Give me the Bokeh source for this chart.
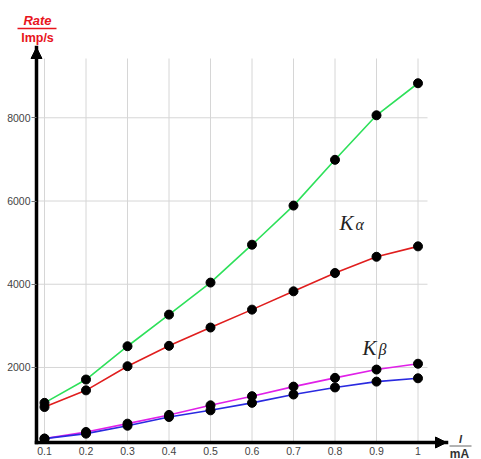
from bokeh.plotting import figure
from bokeh.models import Range1d, FixedTicker, Label, Arrow, NormalHead, ColumnDataSource
from bokeh.embed import file_html
from bokeh.resources import INLINE

# ---- data ----
current = [0.1, 0.2, 0.3, 0.4, 0.5, 0.6, 0.7, 0.8, 0.9, 1.0]
rate_green = [1150, 1710, 2510, 3270, 4040, 4950, 5890, 6990, 8060, 8830]
rate_red = [1050, 1450, 2030, 2520, 2960, 3390, 3830, 4270, 4660, 4910]
rate_magenta = [290, 450, 650, 860, 1090, 1310, 1540, 1750, 1950, 2090]
rate_blue = [290, 410, 600, 810, 970, 1150, 1350, 1520, 1660, 1740]
x_ticks = [0.1, 0.2, 0.3, 0.4, 0.5, 0.6, 0.7, 0.8, 0.9, 1.0]
x_tick_labels = ["0.1", "0.2", "0.3", "0.4", "0.5", "0.6", "0.7", "0.8", "0.9", "1"]
y_ticks = [2000, 4000, 6000, 8000]

W, H = 481, 459


# ---- geometry: canvas px -> data ----
def dx(px):
    return 0.1 + (px - 44) / 415.0


def dy(py):
    return (450.2 - py) * 24.03


AX_X = dx(36)      # where the vertical axis sits
AX_Y = dy(442)     # where the horizontal axis sits
Y_TOP = dy(47)
X_RIGHT = dx(446)
GRID_TOP = dy(58)
GRID_RIGHT = dx(427)

p = figure(width=W, height=H, output_backend="svg", toolbar_location=None,
           x_range=Range1d(dx(0), dx(W)), y_range=Range1d(dy(H), dy(0)),
           min_border=0, min_border_left=0, min_border_right=0,
           min_border_top=0, min_border_bottom=0)
p.outline_line_color = None
p.grid.visible = False
p.background_fill_color = "white"
p.border_fill_color = "white"

# axes drawn at fixed positions
for ax in (p.xaxis[0], p.yaxis[0]):
    ax.axis_line_width = 3.5
    ax.axis_line_color = "black"
    ax.axis_line_cap = "square"
    ax.minor_tick_line_color = None
    ax.major_label_text_font = "Liberation Sans"
    ax.major_label_text_color = "#444444"

p.xaxis.fixed_location = AX_Y
p.xaxis.bounds = (AX_X, X_RIGHT)
p.xaxis.ticker = FixedTicker(ticks=x_ticks)
p.xaxis.major_label_overrides = {t: l for t, l in zip(x_ticks, x_tick_labels)}
p.xaxis.major_tick_line_color = None
p.xaxis.major_tick_out = 0
p.xaxis.major_tick_in = 0
p.xaxis.major_label_standoff = 4
p.xaxis.major_label_text_font_size = "10.5px"

p.yaxis.fixed_location = AX_X
p.yaxis.bounds = (AX_Y, Y_TOP)
p.yaxis.ticker = FixedTicker(ticks=y_ticks)
p.yaxis.major_tick_out = 5
p.yaxis.major_tick_in = 0
p.yaxis.major_tick_line_color = "#777777"
p.yaxis.major_label_standoff = 1
p.yaxis.major_label_text_font_size = "10.5px"

# grid lines
p.segment(x0=x_ticks, x1=x_ticks, y0=[AX_Y] * len(x_ticks), y1=[GRID_TOP] * len(x_ticks),
          line_color="#d6d6d6", line_width=1)
p.segment(x0=[AX_X] * len(y_ticks), x1=[GRID_RIGHT] * len(y_ticks), y0=y_ticks, y1=y_ticks,
          line_color="#d6d6d6", line_width=1)

src = ColumnDataSource(dict(x=current, g=rate_green, r=rate_red, m=rate_magenta, b=rate_blue))
series = [("g", "#2ee05a"), ("r", "#e01e1e"), ("m", "#e020e8"), ("b", "#2a2ae0")]
for col, c in series:
    p.line("x", col, source=src, line_color=c, line_width=1.6)
for col, c in series:
    p.scatter("x", col, source=src, size=9, fill_color="black", line_color="black")

# arrow heads
p.add_layout(Arrow(end=NormalHead(size=11, fill_color="black", line_color="black", line_width=1),
                   x_start=AX_X, y_start=dy(60), x_end=AX_X, y_end=Y_TOP, line_alpha=0))
p.add_layout(Arrow(end=NormalHead(size=11, fill_color="black", line_color="black", line_width=1),
                   x_start=dx(430), y_start=AX_Y, x_end=X_RIGHT, y_end=AX_Y, line_alpha=0))

# K labels
p.add_layout(Label(x=dx(339), y=dy(222), text="K", text_font="Liberation Serif",
                   text_font_style="italic", text_font_size="21px", text_color="#222222",
                   text_baseline="alphabetic"))
p.add_layout(Label(x=dx(355), y=dy(224), text="α", text_font="Liberation Serif",
                   text_font_style="italic", text_font_size="16px", text_color="#222222",
                   text_baseline="alphabetic"))
p.add_layout(Label(x=dx(362), y=dy(347), text="K", text_font="Liberation Serif",
                   text_font_style="italic", text_font_size="21px", text_color="#222222",
                   text_baseline="alphabetic"))
p.add_layout(Label(x=dx(378), y=dy(349), text="β", text_font="Liberation Serif",
                   text_font_style="italic", text_font_size="16px", text_color="#222222",
                   text_baseline="alphabetic"))

# axis titles
p.add_layout(Label(x=dx(37), y=dy(20), text="Rate", text_font="Liberation Sans",
                   text_font_style="bold italic", text_font_size="13px", text_color="#e8141c",
                   text_align="center", text_baseline="alphabetic"))
p.add_layout(Arrow(x_start=dx(17), y_start=dy(28), x_end=dx(56), y_end=dy(28),
                   start=None, end=None, line_color="#e8141c", line_width=1.3))
p.add_layout(Label(x=dx(37), y=dy(37), text="Imp/s", text_font="Liberation Sans",
                   text_font_style="bold", text_font_size="12.5px", text_color="#e8141c",
                   text_align="center", text_baseline="alphabetic"))
p.add_layout(Label(x=dx(460), y=dy(438), text="I", text_font="Liberation Sans",
                   text_font_style="bold italic", text_font_size="11px", text_color="#333333",
                   text_align="center", text_baseline="alphabetic"))
p.add_layout(Arrow(x_start=dx(449), y_start=dy(445.5), x_end=dx(471), y_end=dy(445.5),
                   start=None, end=None, line_color="#666666", line_width=1))
p.add_layout(Label(x=dx(459), y=dy(453), text="mA", text_font="Liberation Sans",
                   text_font_style="bold", text_font_size="12px", text_color="#333333",
                   text_align="center", text_baseline="alphabetic"))

open("out.html", "w").write(file_html(p, INLINE))
